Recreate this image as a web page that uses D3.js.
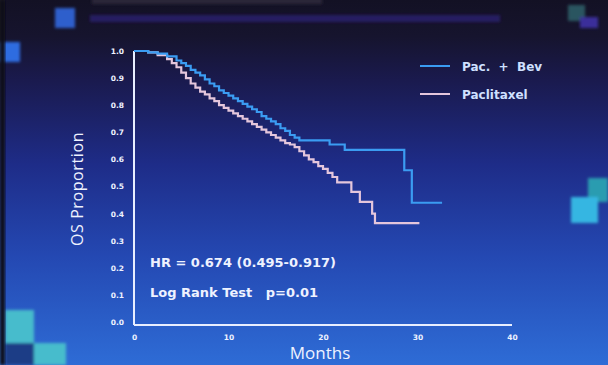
<!DOCTYPE html>
<html lang="en">
<head>
    <meta charset="UTF-8">
    <title>OS Proportion - Kaplan-Meier</title>
    <style>
        body { margin: 0; background: #101020; }
        svg { display: block; }
        .tick text { font-family: "DejaVu Sans", sans-serif; font-weight: bold; font-size: 7.5px; fill: #eef2ff; }
        .label { font-family: "Open Sans", "DejaVu Sans", sans-serif; fill: #eef2ff; }
        .stat { font-family: "DejaVu Sans", sans-serif; font-weight: bold; fill: #eef2ff; }
    </style>
</head>
<body>
    <svg width="608" height="365"></svg>

    <script src="https://d3js.org/d3.v7.min.js"></script>
    <script>
        const width = 608, height = 365;

        // Kaplan-Meier steps: [month, proportion]
        const pacBev = [
            [0, 1.0], [1.5, 0.995], [2.5, 0.99], [3.5, 0.98], [4.5, 0.965], [5, 0.955],
            [5.5, 0.945], [6, 0.93], [6.5, 0.92], [7, 0.91], [7.5, 0.895], [8, 0.88],
            [8.5, 0.87], [9, 0.855], [9.5, 0.845], [10, 0.835], [10.5, 0.825], [11, 0.815],
            [11.5, 0.805], [12, 0.795], [12.5, 0.785], [13, 0.775], [13.5, 0.76], [14, 0.75],
            [14.5, 0.74], [15, 0.73], [15.5, 0.715], [16, 0.705], [16.5, 0.69], [17, 0.68],
            [17.5, 0.67], [20.7, 0.655], [22.3, 0.635], [28.6, 0.56], [29.4, 0.44], [32.6, 0.44]
        ];
        const paclitaxel = [
            [0, 1.0], [1.5, 0.995], [2.5, 0.985], [3.5, 0.97], [4, 0.955], [4.5, 0.94],
            [5, 0.92], [5.5, 0.9], [6, 0.88], [6.5, 0.865], [7, 0.85], [7.5, 0.84],
            [8, 0.825], [8.5, 0.815], [9, 0.8], [9.5, 0.79], [10, 0.78], [10.5, 0.77],
            [11, 0.76], [11.5, 0.75], [12, 0.74], [12.5, 0.73], [13, 0.72], [13.5, 0.71],
            [14, 0.7], [14.5, 0.69], [15, 0.68], [15.5, 0.67], [16, 0.66], [16.5, 0.655],
            [17, 0.645], [17.5, 0.63], [18, 0.615], [18.5, 0.6], [19, 0.59], [19.5, 0.575],
            [20, 0.565], [20.5, 0.55], [21, 0.535], [21.5, 0.515], [23, 0.48], [23.9, 0.443],
            [25.2, 0.4], [25.5, 0.365], [30.2, 0.365]
        ];
        const series = [
            { name: "Pac.  +  Bev", data: pacBev, color: "#3a9cf2" },
            { name: "Paclitaxel", data: paclitaxel, color: "#e4c6dc" }
        ];
        const xTicks = [0, 10, 20, 30, 40];
        const yTicks = [0, 0.1, 0.2, 0.3, 0.4, 0.5, 0.6, 0.7, 0.8, 0.9, 1.0];
        const statLines = ["HR = 0.674 (0.495-0.917)", "Log Rank Test   p=0.01"];

        const svg = d3.select("svg");

        // slide background
        const defs = svg.append("defs");
        const grad = defs.append("linearGradient").attr("id", "bg")
            .attr("x1", 0).attr("y1", 0).attr("x2", 0).attr("y2", 1);
        [["0%", "#131124"], ["10%", "#16142e"], ["22%", "#1a1a4e"], ["45%", "#1e2c88"],
         ["70%", "#2448b2"], ["100%", "#2e6cd6"]].forEach(s =>
            grad.append("stop").attr("offset", s[0]).attr("stop-color", s[1]));
        const blur = defs.append("filter").attr("id", "soft");
        blur.append("feGaussianBlur").attr("stdDeviation", 1.5);
        const glow = defs.append("filter").attr("id", "glow");
        glow.append("feGaussianBlur").attr("stdDeviation", 0.5);

        svg.append("rect").attr("width", width).attr("height", height).attr("fill", "url(#bg)");

        // decorative squares and title band of the slide
        const deco = svg.append("g").attr("filter", "url(#soft)");
        deco.append("rect").attr("x", 90).attr("y", 15).attr("width", 410).attr("height", 7).attr("fill", "#261f62");
        deco.append("rect").attr("x", 92).attr("y", -4).attr("width", 230).attr("height", 8).attr("fill", "#2a2838");
        [[55, 8, 20, 20, "#2f5fcc"], [0, 42, 20, 20, "#2f6ce0"], [568, 5, 17, 16, "#2a5560"],
         [580, 17, 18, 11, "#3a2f9a"], [588, 178, 20, 24, "#2c9cb0"], [571, 197, 27, 26, "#36b6e2"],
         [5, 310, 29, 33, "#46bccc"], [5, 343, 29, 22, "#1c3c86"], [34, 343, 32, 22, "#46bccc"]]
            .forEach(r => deco.append("rect").attr("x", r[0]).attr("y", r[1])
                .attr("width", r[2]).attr("height", r[3]).attr("fill", r[4]));
        svg.append("rect").attr("width", 5).attr("height", height).attr("fill", "#0c0c18").attr("filter", "url(#soft)");

        const x = d3.scaleLinear().domain([0, 40]).range([134, 512]);
        const y = d3.scaleLinear().domain([0, 1]).range([322, 51]);

        // axes
        const axisG = svg.append("g").attr("filter", "url(#glow)");
        axisG.append("line").attr("x1", x(0)).attr("x2", x(0))
            .attr("y1", y(1)).attr("y2", y(0) + 3)
            .attr("stroke", "#e8eeff").attr("stroke-width", 2);
        axisG.append("line").attr("x1", x(0)).attr("x2", x(40))
            .attr("y1", y(0) + 3).attr("y2", y(0) + 3)
            .attr("stroke", "#e8eeff").attr("stroke-width", 2);

        svg.append("g").attr("transform", `translate(0,${y(0) + 3})`)
            .call(d3.axisBottom(x).tickValues(xTicks).tickSize(0).tickPadding(10).tickFormat(d3.format("d")))
            .call(g => g.select(".domain").remove());
        svg.append("g").attr("transform", `translate(${x(0) - 10},0)`)
            .call(d3.axisLeft(y).tickValues(yTicks).tickSize(0).tickPadding(0).tickFormat(d3.format(".1f")))
            .call(g => g.select(".domain").remove())
            .selectAll("text").attr("text-anchor", "end");

        svg.append("text").attr("class", "label")
            .attr("x", 320).attr("y", 359).attr("text-anchor", "middle")
            .attr("font-size", 17).text("Months");
        svg.append("text").attr("class", "label")
            .attr("transform", "translate(83,189) rotate(-90)").attr("text-anchor", "middle")
            .attr("font-size", 16).attr("letter-spacing", 0.6).text("OS Proportion");

        // curves
        const line = d3.line().x(d => x(d[0])).y(d => y(d[1])).curve(d3.curveStepAfter);
        svg.append("g").attr("filter", "url(#glow)")
            .selectAll("path").data(series.slice().reverse()).join("path")
            .attr("d", d => line(d.data))
            .attr("fill", "none")
            .attr("stroke", d => d.color)
            .attr("stroke-width", 2.2);

        // legend
        const legend = svg.append("g").selectAll("g").data(series).join("g")
            .attr("transform", (d, i) => `translate(420,${66 + i * 28})`);
        legend.append("line").attr("x1", 0).attr("x2", 30)
            .attr("stroke", d => d.color).attr("stroke-width", 2);
        legend.append("text").attr("class", "stat")
            .attr("x", 42).attr("y", 5).attr("font-size", 12)
            .style("fill", "#cfe0ff").style("white-space", "pre").text(d => d.name);

        // statistics
        svg.append("g").selectAll("text").data(statLines).join("text")
            .attr("class", "stat")
            .attr("x", 150).attr("y", (d, i) => 267 + i * 30)
            .attr("font-size", 13)
            .style("white-space", "pre")
            .text(d => d);
    </script>
</body>
</html>
